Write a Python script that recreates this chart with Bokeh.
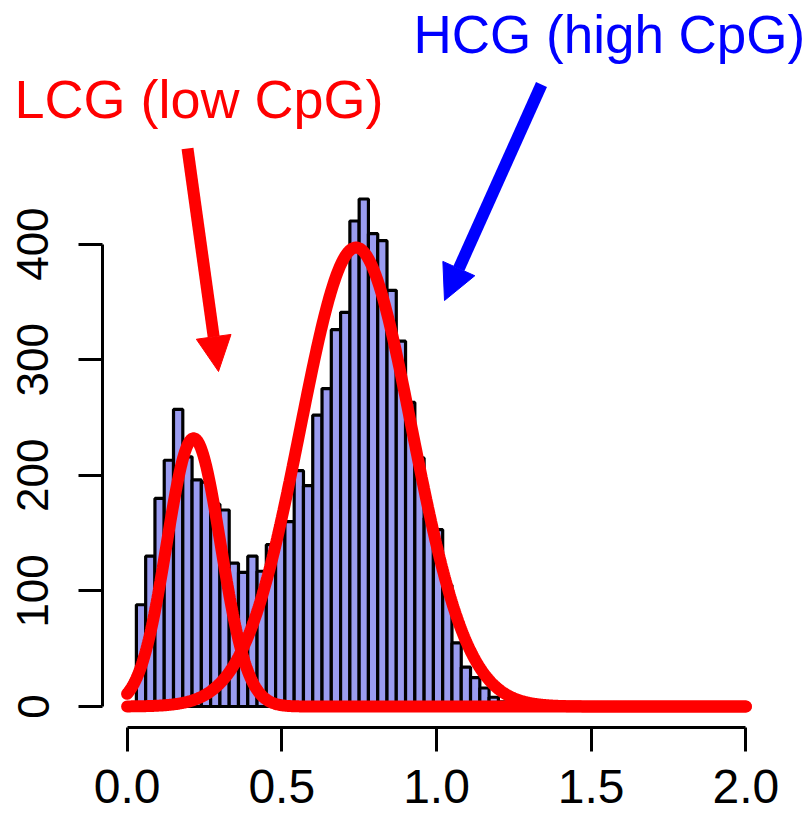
import numpy as np
from bokeh.plotting import figure
from bokeh.models import Range1d, FixedTicker, Arrow, NormalHead, Label
from bokeh.embed import file_html
from bokeh.resources import INLINE

# ---- data ----
bin_width = 0.03
first_bin_left = 0.03
counts = [88, 130, 180, 213, 257, 216, 196, 194, 175, 170,
          124, 116, 130, 117, 140, 157, 160, 204, 191, 252,
          275, 326, 341, 420, 439, 409, 403, 360, 316, 263,
          215, 163, 153, 105, 55, 34, 25, 16, 8, 4]

# fitted normal components (peak height, mean, sd)
lcg_peak, lcg_mean, lcg_sd = 232, 0.215, 0.087
hcg_peak, hcg_mean, hcg_sd = 397, 0.74, 0.18

x_ticks = [0.0, 0.5, 1.0, 1.5, 2.0]
x_tick_labels = ["0.0", "0.5", "1.0", "1.5", "2.0"]
y_ticks = [0, 100, 200, 300, 400]
y_tick_labels = ["0", "100", "200", "300", "400"]

lcg_label = "LCG (low CpG)"
hcg_label = "HCG (high CpG)"

# ---- derived ----
n = len(counts)
lefts = first_bin_left + bin_width * np.arange(n)
rights = lefts + bin_width
xc = np.linspace(0, 2, 801)
lcg_curve = lcg_peak * np.exp(-0.5 * ((xc - lcg_mean) / lcg_sd) ** 2)
hcg_curve = hcg_peak * np.exp(-0.5 * ((xc - hcg_mean) / hcg_sd) ** 2)

FONT = "Liberation Sans"

# pixel -> data helpers for annotation placement
def dx(px):
    return (px - 126.6) / 309.4

def dy(py):
    return (706 - py) / 1.156

p = figure(width=809, height=819, output_backend="svg", toolbar_location=None,
           x_range=Range1d(dx(0), dx(809)), y_range=Range1d(dy(727), dy(0)),
           min_border_left=0, min_border_bottom=92, min_border_top=0,
           min_border_right=0)
p.outline_line_color = None
p.xgrid.visible = False
p.ygrid.visible = False
p.background_fill_color = "white"
p.border_fill_color = "white"

p.quad(left=lefts, right=rights, bottom=0, top=counts,
       fill_color="#9a9cf0", line_color="black", line_width=3.2)

p.line(xc, lcg_curve, line_color="red", line_width=12, line_cap="round")
p.line(xc, hcg_curve, line_color="red", line_width=12, line_cap="round")

for ax in (p.xaxis[0], p.yaxis[0]):
    ax.axis_line_width = 3
    ax.major_tick_line_width = 3
    ax.major_tick_out = 24
    ax.major_tick_in = 0
    ax.minor_tick_line_color = None
    ax.major_label_text_font = FONT
    ax.major_label_text_color = "black"

p.xaxis[0].ticker = FixedTicker(ticks=x_ticks)
p.xaxis[0].major_label_overrides = dict(zip(x_ticks, x_tick_labels))
p.xaxis[0].bounds = (0, 2)
p.xaxis[0].major_label_text_font_size = "48px"
p.xaxis[0].major_label_standoff = 18

p.yaxis[0].ticker = FixedTicker(ticks=y_ticks)
p.yaxis[0].major_label_overrides = dict(zip(y_ticks, y_tick_labels))
p.yaxis[0].bounds = (0, 400)
p.yaxis[0].fixed_location = dx(102)
p.yaxis[0].major_label_text_font_size = "44px"
p.yaxis[0].major_label_orientation = "vertical"
p.yaxis[0].major_label_standoff = 30

p.add_layout(Arrow(end=NormalHead(size=35, fill_color="red", line_color="red", line_width=1),
                   x_start=dx(187), y_start=dy(148), x_end=dx(218), y_end=dy(371),
                   line_color="red", line_width=12))
p.add_layout(Arrow(end=NormalHead(size=35, fill_color="blue", line_color="blue", line_width=1),
                   x_start=dx(541), y_start=dy(84), x_end=dx(444), y_end=dy(300),
                   line_color="blue", line_width=12))

p.add_layout(Label(x=dx(14), y=dy(98), text=lcg_label, text_color="red",
                   text_font=FONT, text_font_size="54px", text_baseline="alphabetic"))
p.add_layout(Label(x=dx(413), y=dy(34), text=hcg_label, text_color="blue",
                   text_font=FONT, text_font_size="53px", text_baseline="alphabetic"))

open("out.html", "w").write(file_html(p, INLINE))
